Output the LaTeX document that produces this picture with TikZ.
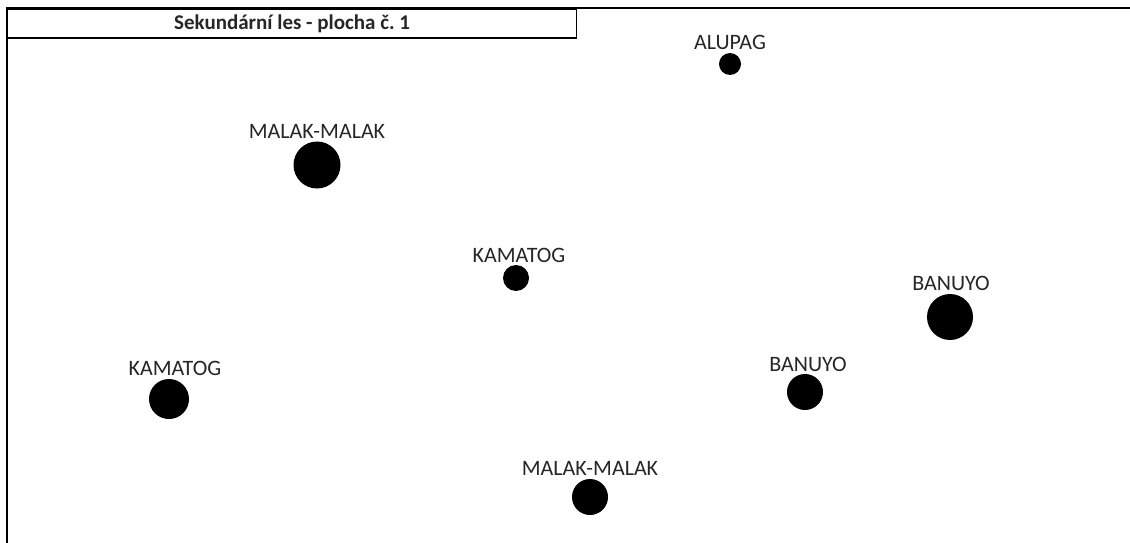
\documentclass[tikz,border=0pt]{standalone}
\usepackage{fontspec}
\setmainfont{Carlito}
\begin{document}
\frenchspacing
\begin{tikzpicture}[x=1pt,y=-1pt,
  spot/.style={circle,fill=black,inner sep=0pt,minimum size=#1},
  tag/.style={font=\fontsize{22}{24}\selectfont,inner sep=0pt,text=black!85}]
\useasboundingbox (0,0) rectangle (1130,543);
% frame: top and left edges only
\draw[line width=2pt] (1130,8.5) -- (7,8.5) -- (7,543);
% title box
\node[draw,line width=1.2pt,minimum width=569,minimum height=29,inner sep=0pt,anchor=north west,
      text=black!85,font=\fontsize{21}{23}\selectfont\bfseries] (title) at (7,8.5) {Sekundární les - plocha č. 1};
% species points
\node[spot=22] (alupag) at (730,64) {};
\node[tag] (alupagL) at (730,42) {ALUPAG};
\node[spot=47] (mm1) at (317,165) {};
\node[tag] (mm1L) at (317,131) {MALAK-MALAK};
\node[spot=26] (kam1) at (516,278) {};
\node[tag] (kam1L) at (519,255) {KAMATOG};
\node[spot=46] (ban1) at (950,317) {};
\node[tag] (ban1L) at (951,283) {BANUYO};
\node[spot=40] (kam2) at (169,399) {};
\node[tag] (kam2L) at (175,368) {KAMATOG};
\node[spot=36] (ban2) at (805,392) {};
\node[tag] (ban2L) at (808,364) {BANUYO};
\node[spot=36] (mm2) at (590,497) {};
\node[tag] (mm2L) at (590,468) {MALAK-MALAK};
\end{tikzpicture}
\end{document}
